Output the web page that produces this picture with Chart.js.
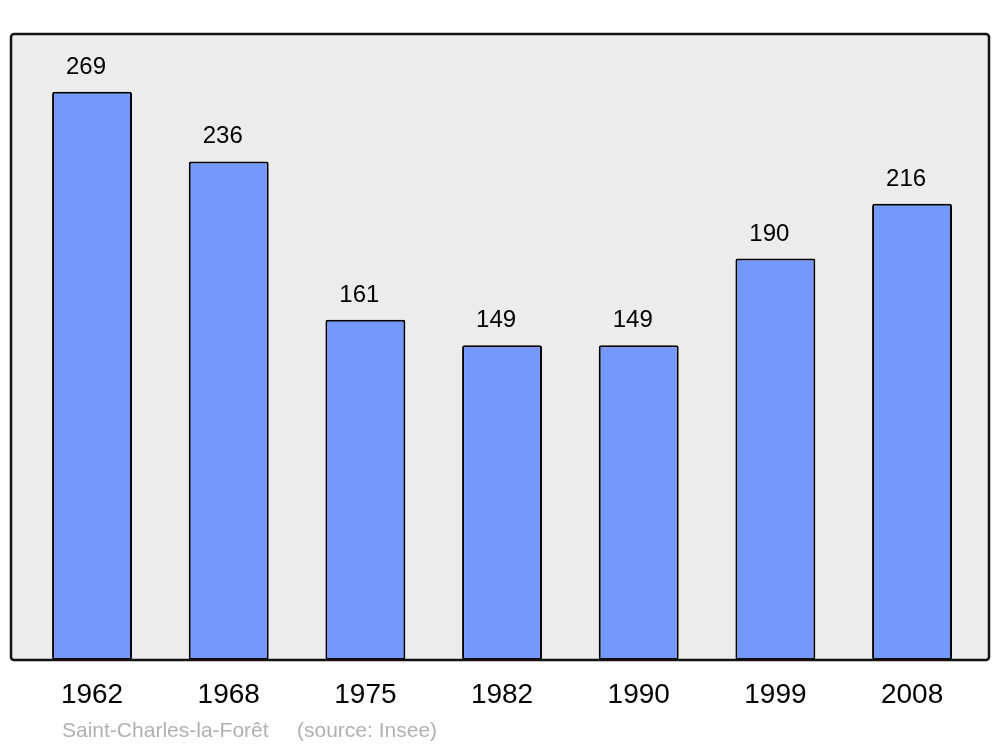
<!DOCTYPE html>
<html>
<head>
<meta charset="utf-8">
<script src="https://cdn.jsdelivr.net/npm/chart.js@4/dist/chart.umd.min.js"></script>
<style>
  html, body { margin: 0; padding: 0; background: #fff; }
  #wrap { width: 1000px; height: 747px; }
</style>
</head>
<body>
<div id="wrap"><canvas id="pop" width="1000" height="747"></canvas></div>
<script>
// Population - Saint-Charles-la-Forêt
const years = ['1962', '1968', '1975', '1982', '1990', '1999', '2008'];
const population = [269, 236, 161, 149, 149, 190, 216];
const footerCommune = 'Saint-Charles-la-Forêt';
const footerSource = '(source: Insee)';

const FONT = '"Liberation Sans", Arial, sans-serif';

// cadre gris arrondi derrière les barres
const framePlugin = {
  id: 'frame',
  beforeDatasetsDraw(chart) {
    const { ctx, chartArea: a } = chart;
    ctx.save();
    ctx.beginPath();
    ctx.roundRect(a.left, a.top, a.right - a.left, a.bottom - a.top, 3);
    ctx.fillStyle = '#ececec';
    ctx.fill();
    ctx.restore();
  },
  afterDatasetsDraw(chart) {
    const { ctx, chartArea: a } = chart;
    ctx.save();
    ctx.beginPath();
    ctx.roundRect(a.left, a.top, a.right - a.left, a.bottom - a.top, 3);
    ctx.lineWidth = 2.5;
    ctx.strokeStyle = '#111';
    ctx.stroke();
    ctx.restore();
  }
};

// valeurs au-dessus des barres + pied de page
const labelsPlugin = {
  id: 'valueLabels',
  afterDraw(chart) {
    const { ctx } = chart;
    const meta = chart.getDatasetMeta(0);
    ctx.save();
    ctx.font = '24px ' + FONT;
    ctx.fillStyle = '#000';
    ctx.textAlign = 'center';
    ctx.textBaseline = 'alphabetic';
    meta.data.forEach((bar, i) => {
      ctx.fillText(String(population[i]), bar.x - 6, bar.y - 18);
    });
    ctx.font = '21px ' + FONT;
    ctx.fillStyle = '#b0b0b0';
    ctx.textAlign = 'left';
    ctx.fillText(footerCommune, 62, 737);
    ctx.fillText(footerSource, 297, 737);
    ctx.restore();
  }
};

new Chart(document.getElementById('pop'), {
  type: 'bar',
  data: {
    datasets: [{
      data: population.map((v, i) => ({ x: i, y: v })),
      backgroundColor: '#7399ff',
      borderColor: '#000',
      borderWidth: 2,
      borderRadius: 2,
      borderSkipped: false,
      categoryPercentage: 1,
      barPercentage: 0.585
    }]
  },
  options: {
    responsive: false,
    animation: false,
    layout: { padding: { left: 11, right: 11, top: 34, bottom: 0 } },
    plugins: { legend: { display: false }, tooltip: { enabled: false } },
    scales: {
      x: {
        type: 'linear',
        offset: false,
        min: -0.593,
        max: 6.563,
        grid: { display: false, drawTicks: false, offset: false },
        border: { display: false },
        afterBuildTicks: (s) => { s.ticks = years.map((_, i) => ({ value: i })); },
        afterFit: (s) => { s.height = 87; },
        ticks: {
          padding: 18,
          color: '#000',
          font: { family: FONT, size: 28 },
          maxRotation: 0,
          autoSkip: false,
          callback: (v) => years[v]
        }
      },
      y: {
        display: false,
        min: 0,
        max: 296.3
      }
    }
  },
  plugins: [framePlugin, labelsPlugin]
});
</script>
</body>
</html>
